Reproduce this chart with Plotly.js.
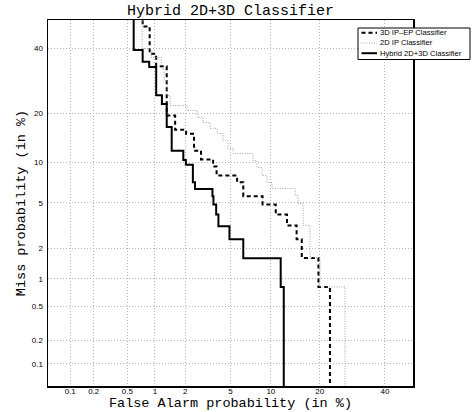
<!DOCTYPE html>
<html>
<head>
<meta charset="utf-8">
<script src="https://cdn.plot.ly/plotly-3.0.1.min.js"></script>
<style>html,body{margin:0;padding:0;background:#fff;}#chart{width:473px;height:412px;}</style>
</head>
<body>
<div id="chart"></div>
<script>
// Tick values (percent)
var tickPercents = [0.1, 0.2, 0.5, 1, 2, 5, 10, 20, 40];
var tickLabels = ["0.1", "0.2", "0.5", "1", "2", "5", "10", "20", "40"];
var axisRangePercent = [0.05, 50];

// Series names
var seriesNames = ["3D IP\u2013EP Classifier", "2D IP Classifier", "Hybrid 2D+3D Classifier"];

// 3D IP-EP Classifier (step curve corners, percent)
var ipepFA   = [0.74, 0.88, 1.03, 1.32, 1.60, 2.04, 2.42, 2.8, 3.58, 3.83, 5.64, 6.3, 8.75, 10.8, 12.8, 14.7, 15.8, 19.7, 22.7, 22.7];
var ipepMiss = [99, 47.7, 38.1, 33.9, 19.5, 16.2, 15.3, 12.0, 10.5, 9.4, 8.1, 7.24, 5.66, 4.86, 4.02, 3.24, 2.43, 1.62, 0.82, 0.001];

// 2D IP Classifier
var ip2dFA   = [0.73, 0.91, 1.16, 1.24, 1.33, 1.43, 2.09, 2.58, 2.92, 3.37, 3.87, 4.34, 4.77, 5.24, 7.46, 7.99, 8.68, 9.41, 10.2, 14.4, 15.0, 16.1, 17.65, 20.1, 27.0, 27.0];
var ip2dMiss = [99, 39.9, 36.8, 33.2, 29.3, 24.9, 22.1, 20.8, 19.05, 17.85, 16.5, 15.4, 13.9, 12.4, 11.5, 10.3, 9.25, 8.1, 7.21, 6.5, 5.74, 4.96, 3.24, 1.64, 0.82, 0.001];

// Hybrid 2D+3D Classifier
var hybFA   = [0.59, 0.74, 0.87, 1.03, 1.18, 1.32, 1.48, 1.92, 2.03, 2.36, 2.47, 3.53, 3.6, 3.8, 3.97, 4.9, 6.3, 11.65, 12.2, 12.2];
var hybMiss = [99, 39.4, 35.4, 33.6, 24.9, 22.5, 16.8, 12.0, 10.4, 9.66, 7.24, 6.44, 5.66, 4.86, 4.02, 3.19, 2.43, 1.61, 0.82, 0.001];

// Normal deviate scale (inverse normal CDF, Acklam)
function norminv(p){
  var a=[-3.969683028665376e+01,2.209460984245205e+02,-2.759285104469687e+02,1.383577518672690e+02,-3.066479806614716e+01,2.506628277459239e+00];
  var b=[-5.447609879822406e+01,1.615858368580409e+02,-1.556989798598866e+02,6.680131188771972e+01,-1.328068155288572e+01];
  var c=[-7.784894002430293e-03,-3.223964580411365e-01,-2.400758277161838e+00,-2.549732539343734e+00,4.374664141464968e+00,2.938163982698783e+00];
  var d=[7.784695709041462e-03,3.224671290700398e-01,2.445134137142996e+00,3.754408661907416e+00];
  var pl=0.02425, ph=1-pl, q, r;
  if(p<pl){q=Math.sqrt(-2*Math.log(p));return (((((c[0]*q+c[1])*q+c[2])*q+c[3])*q+c[4])*q+c[5])/((((d[0]*q+d[1])*q+d[2])*q+d[3])*q+1);}
  if(p<=ph){q=p-0.5;r=q*q;return (((((a[0]*r+a[1])*r+a[2])*r+a[3])*r+a[4])*r+a[5])*q/(((((b[0]*r+b[1])*r+b[2])*r+b[3])*r+b[4])*r+1);}
  q=Math.sqrt(-2*Math.log(1-p));return -(((((c[0]*q+c[1])*q+c[2])*q+c[3])*q+c[4])*q+c[5])/((((d[0]*q+d[1])*q+d[2])*q+d[3])*q+1);
}
function dev(arr){return arr.map(function(v){return norminv(v/100);});}

var lineStyles = [
  {color: '#000', width: 2, dash: '4px,3px', shape: 'vh'},
  {color: '#a0a0a0', width: 1, dash: '1px,1.5px', shape: 'vh'},
  {color: '#000', width: 2, shape: 'vh'}
];

var traces = [
  {x: dev(ipepFA), y: dev(ipepMiss), mode: 'lines', name: seriesNames[0], line: lineStyles[0]},
  {x: dev(ip2dFA), y: dev(ip2dMiss), mode: 'lines', name: seriesNames[1], line: lineStyles[1]},
  {x: dev(hybFA), y: dev(hybMiss), mode: 'lines', name: seriesNames[2], line: lineStyles[2]}
];

var axBase = {
  range: dev(axisRangePercent), tickmode: 'array', tickvals: dev(tickPercents), ticktext: tickLabels,
  showgrid: true, gridcolor: '#b4b4b4', griddash: '1px,2px', gridwidth: 1, zeroline: false,
  showline: true, mirror: true, linecolor: '#000', linewidth: 1.5, ticks: '',
  tickfont: {family: 'Liberation Sans, Arial, sans-serif', size: 8, color: '#000'},
  fixedrange: true, automargin: false
};

// Manual legend (paper coordinates of the plot area)
var plotL = 48, plotR = 413, plotT = 20, plotB = 386;
function px2x(px){return (px - plotL) / (plotR - plotL);}
function px2y(py){return 1 - (py - plotT) / (plotB - plotT);}
var legRows = [32.8, 43, 53.2];
var shapes = [{type: 'rect', xref: 'paper', yref: 'paper', x0: px2x(358), x1: px2x(470), y0: px2y(59.5), y1: px2y(28),
               line: {color: '#000', width: 1}, fillcolor: '#fff', layer: 'above'}];
var annotations = [];
legRows.forEach(function(ry, i){
  var ls = lineStyles[i];
  shapes.push({type: 'line', xref: 'paper', yref: 'paper', x0: px2x(361.5), x1: px2x(377), y0: px2y(ry), y1: px2y(ry),
               line: {color: ls.color, width: ls.width, dash: ls.dash || 'solid'}, layer: 'above'});
  annotations.push({xref: 'paper', yref: 'paper', x: px2x(377.5), y: px2y(ry), xanchor: 'left', yanchor: 'middle',
               text: seriesNames[i], showarrow: false,
               font: {family: 'Liberation Sans, Arial, sans-serif', size: 7.6, color: '#000'}});
});

var layout = {
  width: 473, height: 412,
  margin: {l: plotL, r: 473 - plotR, t: plotT, b: 412 - plotB},
  paper_bgcolor: '#fff', plot_bgcolor: '#fff',
  title: {text: 'Hybrid 2D+3D Classifier', font: {family: 'Liberation Mono, Courier New, monospace', size: 15, color: '#000'},
          xref: 'paper', x: 0.5, xanchor: 'center', yref: 'container', y: 0.977, yanchor: 'middle'},
  xaxis: Object.assign({}, axBase, {title: {text: 'False Alarm probability (in %)', standoff: 0,
          font: {family: 'Liberation Mono, Courier New, monospace', size: 13.5, color: '#000'}}, ticklabelstandoff: -3}),
  yaxis: Object.assign({}, axBase, {title: {text: 'Miss probability (in %)', standoff: 3,
          font: {family: 'Liberation Mono, Courier New, monospace', size: 13.5, color: '#000'}}, ticklabelstandoff: 2}),
  showlegend: false,
  shapes: shapes,
  annotations: annotations
};

Plotly.newPlot('chart', traces, layout, {displayModeBar: false, staticPlot: true});
</script>
</body>
</html>
